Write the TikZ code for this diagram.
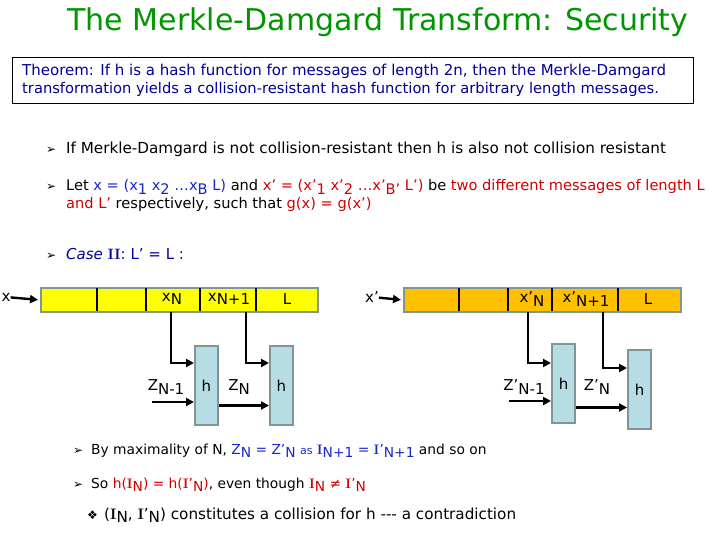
\documentclass[tikz,border=0pt]{standalone}
\usepackage{fontspec}
\setsansfont{DejaVu Sans}
\usepackage{xcolor}
\usetikzlibrary{arrows.meta}
\definecolor{ttlgreen}{RGB}{0,150,0}
\definecolor{thmblue}{RGB}{0,0,150}
\definecolor{msgblue}{RGB}{20,40,200}
\definecolor{msgred}{RGB}{210,0,0}
\definecolor{caseblue}{RGB}{0,0,160}
\definecolor{barx}{RGB}{255,255,0}
\definecolor{barxp}{RGB}{255,192,0}
\definecolor{hfill}{RGB}{183,221,228}
\definecolor{edgegray}{RGB}{128,150,150}
\newcommand{\dn}[1]{\raisebox{-0.45ex}{#1}}
\newcommand{\romI}{{\rmfamily\bfseries I}}
\newcommand{\fs}[1]{\fontsize{#1}{#1}\selectfont}

\begin{document}
\begin{tikzpicture}[x=1pt,y=-1pt,font=\sffamily\fs{15},
  txt/.style={anchor=base west,inner sep=0pt},
  small/.style={txt,font=\sffamily\fs{13.8}},
  bul/.style={txt,font=\sffamily\fs{12}},
  bar/.style={draw=edgegray,line width=2pt,minimum width=277pt,minimum height=24pt,inner sep=0pt,anchor=north west},
  hbox/.style={draw=edgegray,line width=2pt,fill=hfill,minimum width=23pt,minimum height=79pt,inner sep=0pt,anchor=north west,font=\sffamily\fs{15}},
  arr/.style={line width=2.4pt,-{Triangle[length=8pt,width=8pt]}},
  lbl/.style={inner sep=0pt,font=\sffamily\fs{15}}]
  \useasboundingbox (0,0) rectangle (720,540);
  % title and theorem
  \node[anchor=base,inner sep=0pt,text=ttlgreen,font=\sffamily\fs{30}] (title) at (378,31) {The Merkle-Damgard Transform: Security};
  \node[draw,line width=1pt,minimum width=681pt,minimum height=46pt,anchor=north west] (thm) at (12,57) {};
  \node[txt,text=thmblue] (thm1) at (22,76) {Theorem: If h is a hash function for messages of length 2n, then the Merkle-Damgard};
  \node[txt,text=thmblue,font=\sffamily\fs{14.7}] (thm2) at (22,94) {transformation yields a collision-resistant hash function for arbitrary length messages.};
  % bullets
  \node[bul] (b1) at (46,154) {➢};
  \node[txt,font=\sffamily\fs{15.2}] (t1) at (66,154) {If Merkle-Damgard is not collision-resistant then h is also not collision resistant};
  \node[bul] (b2) at (46,191) {➢};
  \node[txt,font=\sffamily\fs{14.6}] (t2) at (66,191) {Let \textcolor{msgblue}{x = (x\dn{1} x\dn{2} …x\dn{B} L)} and
    \textcolor{msgred}{x’ = (x’\dn{1} x’\dn{2} …x’\dn{B’} L’)} be \textcolor{msgred}{two different messages of length L}};
  \node[txt,font=\sffamily\fs{14.6}] (t2b) at (66,209) {\textcolor{msgred}{and L’} respectively, such that \textcolor{msgred}{g(x) = g(x’)}};
  \node[bul] (b3) at (46,259) {➢};
  \node[txt,text=caseblue] (t3) at (66,259) {\textit{Case} \romI\romI: L’ = L :};
  % message x
  \node[bar,fill=barx] (bx) at (40,287) {};
  \foreach \d in {97,146,200,256} \draw[line width=2pt] (\d,288) -- (\d,311);
  \node[lbl] (xin) at (6,297) {x};
  \node[lbl] (xN) at (172,299) {x\dn{N}};
  \node[lbl] (xNp) at (229,299) {x\dn{N+1}};
  \node[lbl] (xL) at (287,299) {L};
  \node[hbox] (hA) at (194,345) {h};
  \node[hbox] (hB) at (269,345) {h};
  \coordinate (tA) at (171,312);
  \coordinate (tB) at (246,312);
  \coordinate (zin) at (152,402);
  \draw[arr,shorten >=2pt] (xin) -- (bx.west);
  \draw[arr] (tA) |- ([yshift=-18pt]hA.north west);
  \draw[arr] (tB) |- ([yshift=-18pt]hB.north west);
  \draw[arr] (zin) -- (zin -| hA.west);
  \draw[arr] ([yshift=-20pt]hA.east) -- ([yshift=-20pt]hA.east -| hB.west);
  \node[lbl] (zA) at (166,387) {Z\dn{N-1}};
  \node[lbl] (zB) at (239,387) {Z\dn{N}};
  % message x'
  \node[bar,fill=barxp] (bxp) at (403,287) {};
  \foreach \d in {459,508,552,618} \draw[line width=2pt] (\d,288) -- (\d,311);
  \node[lbl] (xpin) at (372,297) {x’};
  \node[lbl] (xpN) at (532,299) {x’\dn{N}};
  \node[lbl] (xpNp) at (586,299) {x’\dn{N+1}};
  \node[lbl] (xpL) at (648,299) {L};
  \node[hbox] (hC) at (551,343) {h};
  \node[hbox] (hD) at (627,349) {h};
  \coordinate (tC) at (528,312);
  \coordinate (tD) at (603,312);
  \coordinate (zpin) at (509,401);
  \draw[arr,shorten >=2pt] (xpin) -- (bxp.west);
  \draw[arr] (tC) |- ([yshift=-20pt]hC.north west);
  \draw[arr] (tD) |- ([yshift=-19pt]hD.north west);
  \draw[arr] (zpin) -- (zpin -| hC.west);
  \draw[arr] ([yshift=-24pt]hC.east) -- ([yshift=-24pt]hC.east -| hD.west);
  \node[lbl] (zC) at (524,387) {Z’\dn{N-1}};
  \node[lbl] (zD) at (597,387) {Z’\dn{N}};
  % conclusion
  \node[bul] (b4) at (73,454) {➢};
  \node[small] (t4) at (91,454) {By maximality of N, \textcolor{msgblue}{Z\dn{N} = Z’\dn{N}}
    \textcolor{msgblue}{\fs{11}as} \textcolor{msgblue}{\romI\dn{N+1} = \romI’\dn{N+1}} and so on};
  \node[bul] (b5) at (73,488) {➢};
  \node[small] (t5) at (91,488) {So \textcolor{msgred}{h(\romI\dn{N}) = h(\romI’\dn{N})}, even though \textcolor{msgred}{\romI\dn{N} ≠ \romI’\dn{N}}};
  \node[bul] (b6) at (87,519) {❖};
  \node[small,font=\sffamily\fs{15.2}] (t6) at (104,519) {(\romI\dn{N}, \romI’\dn{N}) constitutes a collision for h -{}-{}- a contradiction};
\end{tikzpicture}
\end{document}
